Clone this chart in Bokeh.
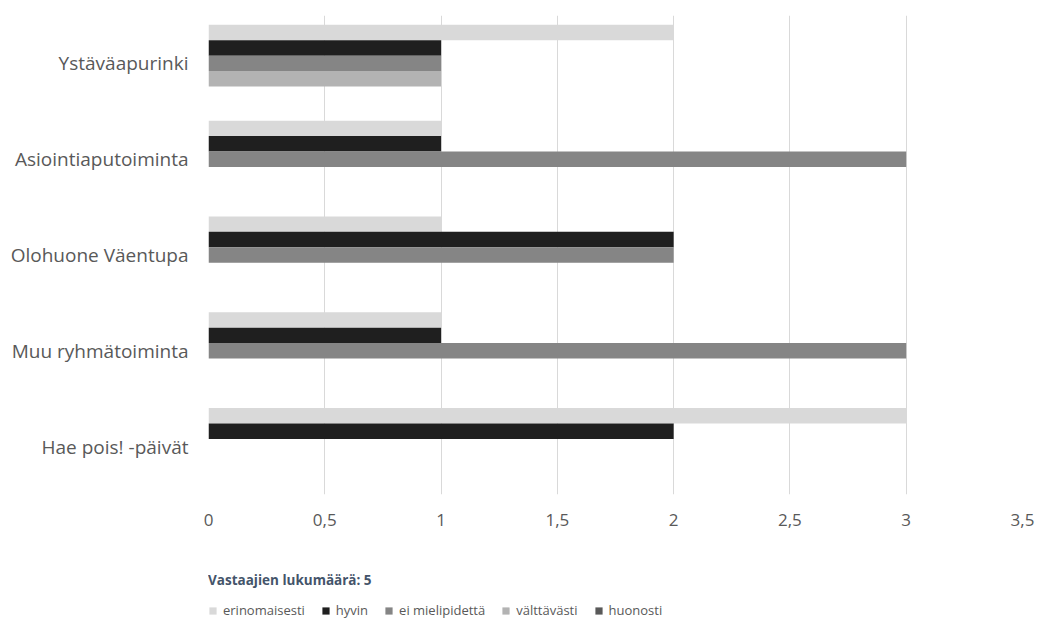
from bokeh.plotting import figure
from bokeh.layouts import column
from bokeh.models import FactorRange, Range1d, FixedTicker, Legend, LegendItem, ColumnDataSource
from bokeh.transform import dodge
from bokeh.embed import file_html
from bokeh.resources import INLINE

categories = ["Hae pois! -päivät", "Muu ryhmätoiminta", "Olohuone Väentupa",
              "Asiointiaputoiminta", "Ystäväapurinki"]
series = ["erinomaisesti", "hyvin", "ei mielipidettä", "välttävästi", "huonosti"]
erinomaisesti = [3, 1, 1, 1, 2]
hyvin = [2, 1, 2, 1, 1]
ei_mielipidetta = [0, 3, 2, 3, 1]
valttavasti = [0, 0, 0, 0, 1]
huonosti = [0, 0, 0, 0, 0]
values = [erinomaisesti, hyvin, ei_mielipidetta, valttavasti, huonosti]
colors = ["#d9d9d9", "#1f1f1f", "#858585", "#b3b3b3", "#595959"]
tick_values = [0, 0.5, 1, 1.5, 2, 2.5, 3, 3.5]
tick_labels = ["0", "0,5", "1", "1,5", "2", "2,5", "3", "3,5"]
title_text = "Vastaajien lukumäärä: 5"

FONT = "Open Sans"
TXT = "#595959"

p = figure(width=1040, height=534, frame_width=814, frame_height=479,
           output_backend="svg", toolbar_location=None,
           y_range=FactorRange(factors=categories, range_padding=0),
           x_range=Range1d(0, 3.5),
           min_border_left=208, min_border_right=18, min_border_top=15, min_border_bottom=40)
p.outline_line_color = None
p.background_fill_color = "white"

bar_h = 0.161
for i, (name, vals, col) in enumerate(zip(series, values, colors)):
    src = ColumnDataSource(dict(cat=categories, val=vals))
    p.hbar(y=dodge("cat", (2 - i) * bar_h, range=p.y_range), right="val", left=0,
           height=bar_h, source=src, fill_color=col, line_color=None)

p.xgrid.grid_line_color = "#d9d9d9"
p.xgrid.grid_line_width = 1
p.ygrid.grid_line_color = None

p.xaxis.ticker = FixedTicker(ticks=tick_values)
p.xaxis.major_label_overrides = {v: l for v, l in zip(tick_values, tick_labels)}
p.xaxis.axis_line_color = None
p.xaxis.major_tick_line_color = None
p.xaxis.minor_tick_line_color = None
p.xaxis.major_label_standoff = 13
p.xaxis.major_label_text_font = FONT
p.xaxis.major_label_text_font_size = "17px"
p.xaxis.major_label_text_color = TXT

p.yaxis.axis_line_color = None
p.yaxis.major_tick_line_color = None
p.yaxis.minor_tick_line_color = None
p.yaxis.major_label_standoff = 14
p.yaxis.major_label_text_font = FONT
p.yaxis.major_label_text_font_size = "19px"
p.yaxis.major_label_text_color = TXT

# legend strip below the chart (frames are aligned with the chart above)
p2 = figure(width=1040, height=94, output_backend="svg", toolbar_location=None,
            x_range=Range1d(0, 1), y_range=Range1d(0, 1),
            x_axis_type=None, y_axis_type=None,
            min_border_left=0, min_border_right=0, min_border_top=0, min_border_bottom=0)
p2.outline_line_color = None
p2.xgrid.grid_line_color = None
p2.ygrid.grid_line_color = None
items = []
for name, col in zip(series, colors):
    r = p2.hbar(y=[0.5], right=[0], left=[0], height=0.1, fill_color=col, line_color=None)
    items.append(LegendItem(label=name, renderers=[r]))

legend = Legend(items=items, orientation="horizontal", location=(0, 9), margin=0, padding=0,
                glyph_width=9, glyph_height=9, label_standoff=6, spacing=16,
                label_text_font=FONT, label_text_font_size="13px", label_text_color=TXT,
                title=title_text, title_text_font=FONT, title_text_font_size="13.5px",
                title_text_font_style="bold", title_text_color="#44546a", title_standoff=12,
                border_line_color=None, background_fill_alpha=0)
p2.add_layout(legend, "center")

layout = column(p, p2, spacing=0)
open("out.html", "w").write(file_html(layout, INLINE))
